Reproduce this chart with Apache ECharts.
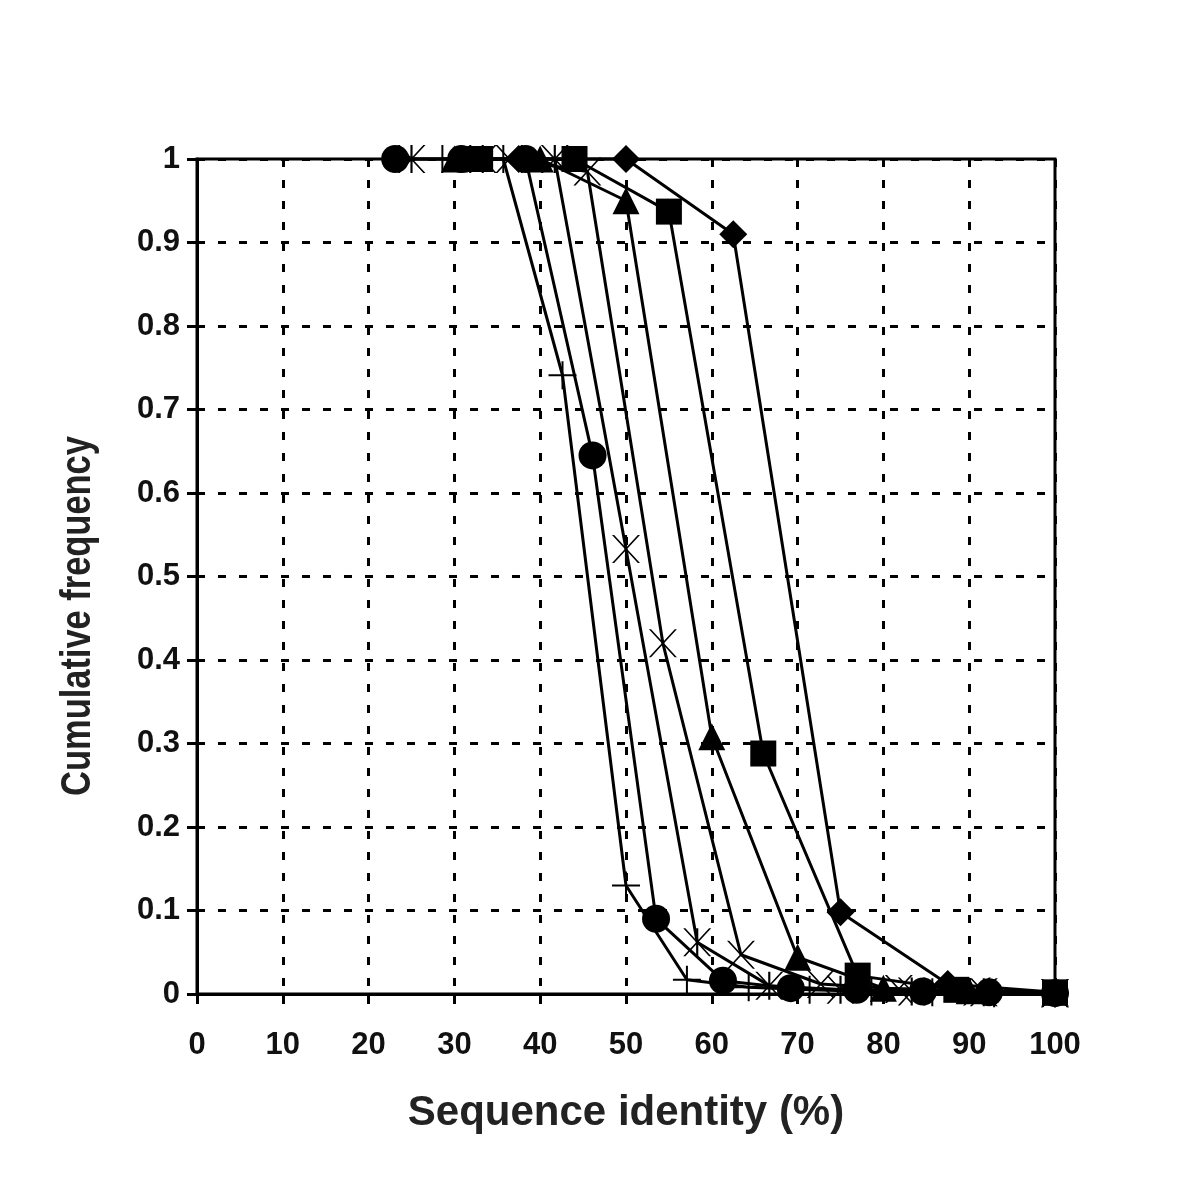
<!DOCTYPE html>
<html>
<head>
<meta charset="utf-8">
<script src="https://cdn.jsdelivr.net/npm/echarts@6/dist/echarts.min.js"></script>
<style>
  html, body { margin: 0; padding: 0; background: #fff; }
  #chart { width: 1200px; height: 1200px; }
</style>
</head>
<body>
<div id="chart"></div>
<script>
// values, one pair of arrays per series
var diamondX = [37.5, 50, 62.5, 75, 87.5, 100];
var diamondY = [1, 1, 0.91, 0.098, 0.012, 0.002];

var squareX = [33, 44, 55, 66, 77, 88.5, 100];
var squareY = [1, 1, 0.937, 0.288, 0.022, 0.005, 0.002];

var triangleX = [30, 40, 50, 60, 70, 80, 90, 100];
var triangleY = [1, 1, 0.95, 0.308, 0.044, 0.007, 0.004, 0.002];

var crossX = [36.4, 45.5, 54.3, 63.4, 72.7, 81.8, 90.9, 100];
var crossY = [1, 0.985, 0.42, 0.047, 0.012, 0.006, 0.003, 0.001];

var starX = [25, 33.3, 41.7, 50, 58.3, 66.7, 75, 83.3, 91.7, 100];
var starY = [1, 1, 1, 0.533, 0.062, 0.01, 0.005, 0.003, 0.002, 0.001];

var circleX = [23.1, 30.8, 38.3, 46.1, 53.5, 61.3, 69.2, 76.9, 84.6, 92.3, 100];
var circleY = [1, 1, 1, 0.645, 0.09, 0.016, 0.007, 0.005, 0.003, 0.002, 0.001];

var plusX = [28.6, 35.7, 42.6, 50, 57.1, 64.3, 71.4, 78.6, 85.7, 92.9, 100];
var plusY = [1, 1, 0.741, 0.13, 0.017, 0.008, 0.005, 0.003, 0.002, 0.001, 0.001];

var xTicks = [0, 10, 20, 30, 40, 50, 60, 70, 80, 90, 100];
var yTicks = [0, 0.1, 0.2, 0.3, 0.4, 0.5, 0.6, 0.7, 0.8, 0.9, 1];

function pairs(xs, ys) {
  return xs.map(function (x, i) { return [x, ys[i]]; });
}

// thin line markers as filled paths
var plusPath = 'path://M-1,-14L1,-14L1,14L-1,14Z M-14,-1L14,-1L14,1L-14,1Z';
var crossPath = 'path://M-13,-15L-11,-15L13,15L11,15Z M11,-15L13,-15L-11,15L-13,15Z';
var starPath = 'path://M-13,-15L-11,-15L13,15L11,15Z M11,-15L13,-15L-11,15L-13,15Z M-1,-15L1,-15L1,15L-1,15Z';

function makeSeries(name, data, symbol, size) {
  return {
    name: name,
    type: 'line',
    data: data,
    smooth: false,
    symbol: symbol,
    symbolSize: size,
    showAllSymbol: true,
    clip: false,
    lineStyle: { color: '#000', width: 3 },
    itemStyle: { color: '#000', borderWidth: 0 },
    emphasis: { disabled: true }
  };
}

var chart = echarts.init(document.getElementById('chart'));
var font = 'Liberation Sans, Arial, sans-serif';

chart.setOption({
  animation: false,
  backgroundColor: '#fff',
  grid: {
    left: 197, right: 145, top: 159, bottom: 206,
    show: true, borderColor: '#000', borderWidth: 3
  },
  xAxis: {
    type: 'value',
    min: 0, max: 100, interval: 10,
    name: 'Sequence identity (%)',
    nameLocation: 'middle',
    nameGap: 98,
    nameTextStyle: { fontFamily: font, fontWeight: 'bold', fontSize: 42, color: '#222' },
    axisLine: { lineStyle: { color: '#000', width: 3 } },
    axisTick: { show: true, length: 10, lineStyle: { color: '#000', width: 3 } },
    axisLabel: {
      margin: 36, fontFamily: font, fontWeight: 'bold', fontSize: 31, color: '#111',
      formatter: function (v) { return xTicks.indexOf(v) >= 0 ? String(v) : ''; }
    },
    splitLine: { show: true, lineStyle: { color: '#000', width: 3, type: [8, 13] } }
  },
  yAxis: {
    type: 'value',
    min: 0, max: 1, interval: 0.1,
    axisLine: { show: true, lineStyle: { color: '#000', width: 3 } },
    axisTick: { show: true, length: 10, lineStyle: { color: '#000', width: 3 } },
    axisLabel: {
      margin: 17, fontFamily: font, fontWeight: 'bold', fontSize: 31, color: '#111',
      formatter: function (v) {
        var r = Math.round(v * 10) / 10;
        return yTicks.indexOf(r) >= 0 ? String(r) : '';
      }
    },
    splitLine: { show: true, lineStyle: { color: '#000', width: 3, type: [8, 13] } }
  },
  graphic: [{
    type: 'text',
    x: 78, y: 616,
    rotation: Math.PI / 2,
    scaleX: 0.82,
    style: {
      text: 'Cumulative frequency',
      fontFamily: font,
      fontWeight: 'bold', fontSize: 42, fill: '#222',
      align: 'center', verticalAlign: 'middle'
    }
  }],
  series: [
    makeSeries('plus', pairs(plusX, plusY), plusPath, 28),
    makeSeries('circle', pairs(circleX, circleY), 'circle', 28),
    makeSeries('star', pairs(starX, starY), starPath, 28),
    makeSeries('cross', pairs(crossX, crossY), crossPath, 28),
    makeSeries('triangle', pairs(triangleX, triangleY), 'triangle', 27),
    makeSeries('square', pairs(squareX, squareY), 'rect', 26),
    makeSeries('diamond', pairs(diamondX, diamondY), 'diamond', 28)
  ]
});
</script>
</body>
</html>
